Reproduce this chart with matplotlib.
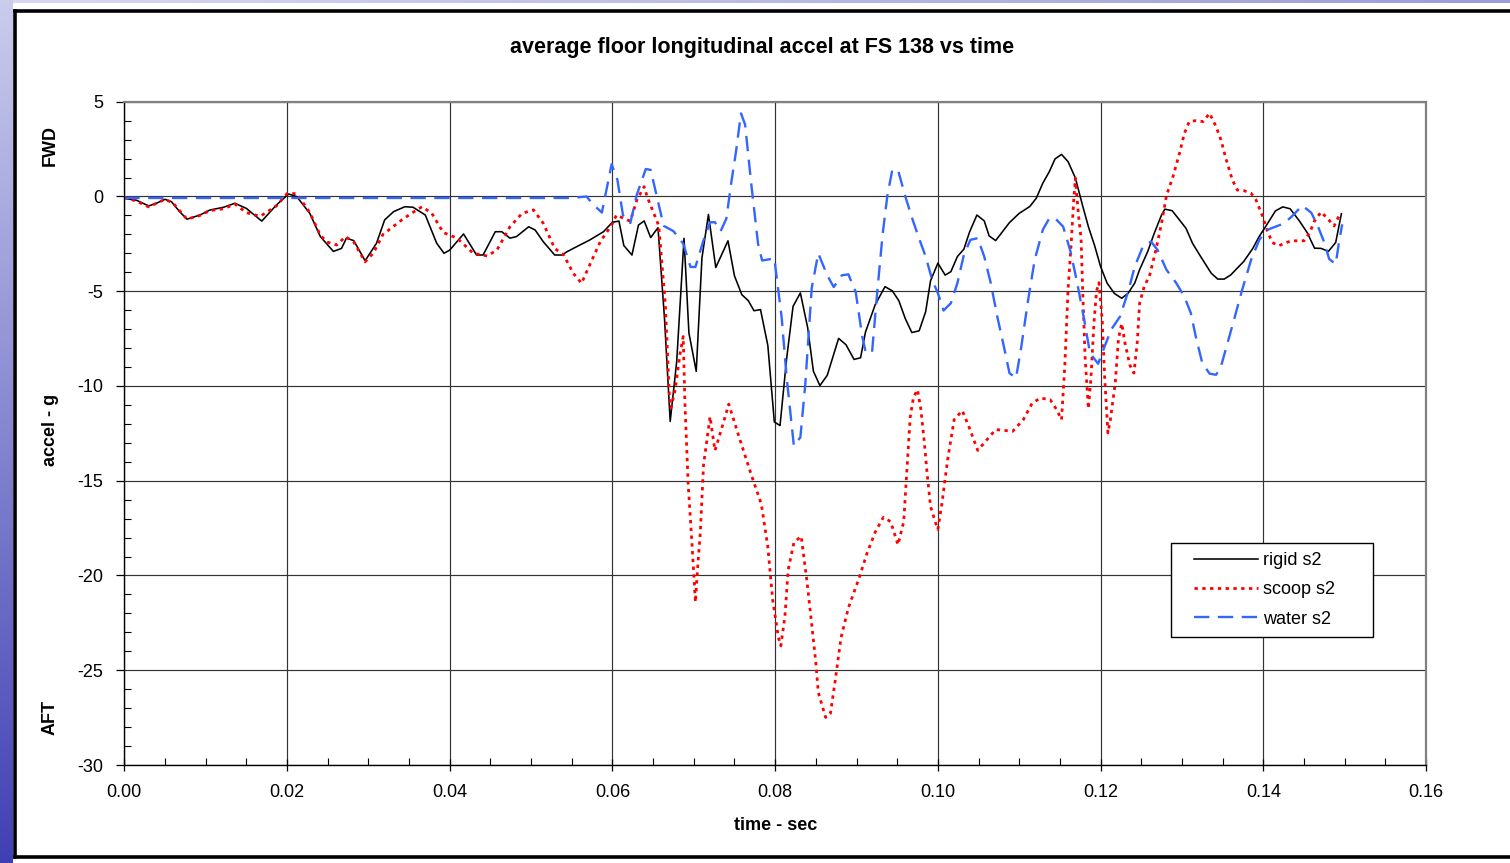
import numpy as np
import matplotlib
matplotlib.use("Agg")
import matplotlib.pyplot as plt
from matplotlib.ticker import MultipleLocator, FormatStrFormatter
from matplotlib.legend_handler import HandlerLine2D

plt.rcParams["font.family"] = ["Liberation Sans", "DejaVu Sans"]
plt.rcParams["axes.unicode_minus"] = False

# ---- data (time s, accel g) ----
rigid_t = [0.0000, 0.0015, 0.0030, 0.0040, 0.0050, 0.0058, 0.0068, 0.0077, 0.0093, 0.0105,
           0.0122, 0.0136, 0.0150, 0.0169, 0.0187, 0.0202, 0.0212, 0.0228, 0.0241, 0.0257,
           0.0267, 0.0273, 0.0282, 0.0296, 0.0310, 0.0320, 0.0331, 0.0345, 0.0355, 0.0370,
           0.0384, 0.0393, 0.0400, 0.0417, 0.0433, 0.0441, 0.0456, 0.0464, 0.0474, 0.0482,
           0.0497, 0.0505, 0.0515, 0.0529, 0.0538, 0.0544, 0.0556, 0.0572, 0.0589, 0.0600,
           0.0608, 0.0614, 0.0624, 0.0632, 0.0639, 0.0647, 0.0656, 0.0664, 0.0671, 0.0679,
           0.0688, 0.0694, 0.0703, 0.0710, 0.0718, 0.0727, 0.0742, 0.0750, 0.0759, 0.0767,
           0.0774, 0.0782, 0.0791, 0.0799, 0.0806, 0.0814, 0.0822, 0.0831, 0.0840, 0.0847,
           0.0855, 0.0864, 0.0878, 0.0887, 0.0897, 0.0905, 0.0911, 0.0923, 0.0935, 0.0944,
           0.0952, 0.0960, 0.0968, 0.0977, 0.0985, 0.0991, 0.1000, 0.1009, 0.1016, 0.1024,
           0.1032, 0.1039, 0.1048, 0.1057, 0.1063, 0.1071, 0.1088, 0.1100, 0.1113, 0.1121,
           0.1129, 0.1137, 0.1144, 0.1152, 0.1160, 0.1169, 0.1178, 0.1185, 0.1193, 0.1200,
           0.1208, 0.1217, 0.1226, 0.1234, 0.1242, 0.1248, 0.1258, 0.1266, 0.1275, 0.1279,
           0.1288, 0.1297, 0.1305, 0.1313, 0.1323, 0.1336, 0.1344, 0.1352, 0.1360, 0.1376,
           0.1387, 0.1395, 0.1403, 0.1415, 0.1424, 0.1433, 0.1444, 0.1454, 0.1463, 0.1471,
           0.1480, 0.1489, 0.1496]
rigid_g = [-0.10, -0.20, -0.50, -0.35, -0.15, -0.28, -0.80, -1.20, -0.98, -0.72,
           -0.57, -0.36, -0.63, -1.30, -0.45, 0.13, -0.01, -0.89, -2.12, -2.90,
           -2.74, -2.20, -2.33, -3.39, -2.47, -1.24, -0.80, -0.54, -0.57, -0.98,
           -2.47, -3.00, -2.83, -1.98, -3.09, -3.09, -1.86, -1.86, -2.20, -2.12,
           -1.60, -1.77, -2.39, -3.09, -3.09, -2.92, -2.65, -2.30, -1.86, -1.36,
           -1.30, -2.59, -3.09, -1.51, -1.29, -2.17, -1.65, -6.45, -11.87, -8.70,
           -2.21, -7.20, -9.23, -3.25, -0.95, -3.75, -2.34, -4.19, -5.18, -5.50,
           -6.03, -5.97, -7.86, -11.90, -12.09, -8.60, -5.80, -5.09, -6.93, -9.22,
           -9.98, -9.44, -7.49, -7.82, -8.60, -8.51, -7.16, -5.71, -4.76, -4.98,
           -5.50, -6.45, -7.18, -7.09, -6.08, -4.45, -3.52, -4.15, -3.97, -3.17,
           -2.78, -1.87, -0.98, -1.29, -2.08, -2.33, -1.38, -0.89, -0.53, -0.09,
           0.70, 1.31, 1.98, 2.22, 1.84, 0.98, -0.50, -1.59, -2.64, -3.70,
           -4.57, -5.12, -5.37, -5.10, -4.57, -3.86, -2.90, -1.94, -0.97, -0.67,
           -0.75, -1.24, -1.68, -2.47, -3.17, -4.05, -4.36, -4.36, -4.14, -3.43,
           -2.75, -2.11, -1.58, -0.76, -0.55, -0.65, -1.27, -1.91, -2.73, -2.74,
           -2.90, -2.43, -0.91]

scoop_t = [0.0000, 0.0015, 0.0030, 0.0040, 0.0050, 0.0060, 0.0077, 0.0093, 0.0105, 0.0122,
           0.0136, 0.0150, 0.0167, 0.0187, 0.0200, 0.0212, 0.0228, 0.0241, 0.0249, 0.0261,
           0.0272, 0.0282, 0.0296, 0.0306, 0.0318, 0.0341, 0.0353, 0.0366, 0.0378, 0.0392,
           0.0409, 0.0429, 0.0446, 0.0458, 0.0474, 0.0489, 0.0503, 0.0515, 0.0529, 0.0540,
           0.0552, 0.0562, 0.0572, 0.0585, 0.0599, 0.0605, 0.0618, 0.0622, 0.0630, 0.0639,
           0.0643, 0.0657, 0.0665, 0.0670, 0.0672, 0.0677, 0.0683, 0.0687, 0.0689, 0.0693,
           0.0698, 0.0702, 0.0705, 0.0708, 0.0712, 0.0720, 0.0726, 0.0734, 0.0743, 0.0754,
           0.0771, 0.0783, 0.0791, 0.0797, 0.0804, 0.0807, 0.0812, 0.0816, 0.0823, 0.0832,
           0.0839, 0.0845, 0.0850, 0.0853, 0.0862, 0.0868, 0.0874, 0.0881, 0.0890, 0.0903,
           0.0913, 0.0923, 0.0933, 0.0942, 0.0951, 0.0958, 0.0962, 0.0966, 0.0970, 0.0975,
           0.0979, 0.0983, 0.0987, 0.0991, 0.0997, 0.1000, 0.1005, 0.1012, 0.1020, 0.1030,
           0.1038, 0.1049, 0.1059, 0.1071, 0.1092, 0.1105, 0.1116, 0.1126, 0.1138, 0.1146,
           0.1152, 0.1156, 0.1160, 0.1164, 0.1167, 0.1169, 0.1173, 0.1176, 0.1178, 0.1181,
           0.1185, 0.1188, 0.1192, 0.1195, 0.1198, 0.1202, 0.1205, 0.1209, 0.1212, 0.1218,
           0.1222, 0.1226, 0.1230, 0.1236, 0.1241, 0.1245, 0.1248, 0.1254, 0.1260, 0.1268,
           0.1275, 0.1281, 0.1289, 0.1297, 0.1303, 0.1309, 0.1317, 0.1326, 0.1334, 0.1342,
           0.1348, 0.1354, 0.1362, 0.1368, 0.1376, 0.1385, 0.1391, 0.1399, 0.1405, 0.1411,
           0.1419, 0.1434, 0.1450, 0.1457, 0.1463, 0.1471, 0.1480, 0.1487, 0.1494]
scoop_g = [-0.05, -0.25, -0.55, -0.35, -0.15, -0.35, -1.20, -1.00, -0.75, -0.65,
           -0.40, -0.85, -1.05, -0.50, 0.15, 0.15, -0.85, -2.05, -2.40, -2.56,
           -2.12, -2.40, -3.45, -3.00, -2.00, -1.24, -0.89, -0.54, -0.89, -1.90,
           -2.20, -3.00, -3.14, -2.83, -1.60, -0.89, -0.71, -1.42, -2.74, -3.09,
           -4.06, -4.58, -3.62, -2.39, -1.51, -0.98, -1.24, -1.30, -0.19, 0.52,
           -0.05, -1.55, -5.69, -10.59, -11.15, -10.21, -8.33, -7.39, -10.78, -15.10,
           -18.49, -21.41, -19.43, -17.74, -14.16, -11.62, -13.41, -12.28, -10.96, -12.47,
           -14.73, -16.23, -18.49, -21.30, -23.27, -23.71, -22.16, -19.71, -18.27, -17.93,
           -20.27, -22.60, -24.60, -26.16, -27.49, -27.27, -25.49, -23.27, -21.71, -20.16,
           -18.82, -17.71, -16.93, -17.16, -18.38, -17.16, -14.38, -11.65, -10.60, -10.20,
           -11.20, -12.83, -14.70, -16.36, -17.20, -17.57, -16.20, -13.89, -11.78, -11.30,
           -12.13, -13.40, -12.90, -12.30, -12.39, -11.78, -10.90, -10.64, -10.72, -11.25,
           -11.78, -8.97, -4.93, -2.40, -0.18, 0.96, -1.06, -2.20, -4.93, -8.50,
           -11.20, -9.67, -6.60, -5.00, -4.55, -6.50, -9.50, -12.48, -11.80, -9.85,
           -7.50, -6.70, -7.74, -8.90, -9.32, -7.74, -5.63, -4.70, -4.22, -2.82,
           -1.41, 0.05, 1.05, 2.28, 3.33, 3.95, 4.00, 3.95, 4.39, 3.68,
           2.98, 2.01, 0.87, 0.34, 0.31, 0.17, -0.18, -1.03, -1.82, -2.43,
           -2.60, -2.34, -2.34, -1.91, -1.29, -0.82, -1.21, -1.56, -0.94]

water_t = [0.0000, 0.0550, 0.0568, 0.0577, 0.0587, 0.0599, 0.0606, 0.0613, 0.0622, 0.0630,
           0.0641, 0.0647, 0.0657, 0.0663, 0.0675, 0.0687, 0.0696, 0.0702, 0.0712, 0.0720,
           0.0726, 0.0733, 0.0740, 0.0746, 0.0752, 0.0758, 0.0763, 0.0771, 0.0779, 0.0784,
           0.0799, 0.0808, 0.0814, 0.0823, 0.0831, 0.0837, 0.0845, 0.0853, 0.0864, 0.0872,
           0.0882, 0.0890, 0.0899, 0.0907, 0.0911, 0.0919, 0.0925, 0.0932, 0.0938, 0.0944,
           0.0951, 0.0960, 0.0968, 0.0976, 0.0985, 0.0993, 0.1000, 0.1007, 0.1016, 0.1024,
           0.1032, 0.1040, 0.1049, 0.1057, 0.1065, 0.1073, 0.1082, 0.1088, 0.1096, 0.1102,
           0.1111, 0.1119, 0.1129, 0.1137, 0.1144, 0.1154, 0.1163, 0.1171, 0.1179, 0.1187,
           0.1197, 0.1205, 0.1213, 0.1224, 0.1234, 0.1242, 0.1252, 0.1262, 0.1270, 0.1281,
           0.1293, 0.1303, 0.1311, 0.1317, 0.1325, 0.1334, 0.1342, 0.1348, 0.1356, 0.1364,
           0.1374, 0.1385, 0.1395, 0.1403, 0.1411, 0.1424, 0.1434, 0.1448, 0.1459, 0.1467,
           0.1475, 0.1481, 0.1489, 0.1493, 0.1497]
water_g = [-0.08, -0.08, 0.00, -0.45, -0.85, 1.70, 0.90, -1.00, -1.40, 0.10,
           1.45, 1.40, -0.45, -1.55, -1.83, -2.49, -3.72, -3.72, -2.30, -1.36,
           -1.36, -1.83, -1.17, 0.71, 2.40, 4.38, 3.81, 0.52, -2.50, -3.38,
           -3.27, -6.38, -9.49, -13.16, -12.71, -9.93, -4.82, -3.00, -4.16, -4.78,
           -4.16, -4.11, -5.04, -7.38, -8.16, -8.27, -5.27, -2.04, 0.07, 1.40,
           1.40, 0.00, -1.10, -2.11, -3.17, -4.40, -5.10, -6.02, -5.63, -4.57,
           -3.08, -2.29, -2.20, -3.17, -4.57, -6.33, -8.09, -9.32, -9.58, -8.09,
           -5.45, -3.35, -1.76, -1.15, -1.15, -1.59, -2.90, -4.50, -6.30, -8.26,
           -8.83, -7.91, -7.03, -6.33, -5.01, -3.70, -2.64, -2.38, -2.82, -3.87,
           -4.57, -5.28, -6.16, -7.39, -8.79, -9.35, -9.41, -8.97, -7.74, -6.51,
           -4.93, -3.35, -2.30, -1.80, -1.66, -1.45, -1.10, -0.48, -0.86, -1.56,
           -2.43, -3.30, -3.57, -2.43, -1.47]

SERIES = ["rigid s2", "scoop s2", "water s2"]

fig = plt.figure(figsize=(15.10, 8.63), dpi=100)

# slide background strips + chart border
bg = fig.add_axes([0, 0, 1, 1], zorder=-10)
img = np.ones((863, 1510, 3))
vert = np.linspace(0, 1, 863)[:, None]
img[:, :13, 0] = 0.80 - 0.55 * vert
img[:, :13, 1] = 0.80 - 0.55 * vert
img[:, :13, 2] = 0.93 - 0.22 * vert
hor = np.linspace(0, 1, 1510)[None, :]
img[:4, 13:, 0] = (0.85 - 0.24 * hor)[:, 13:]
img[:4, 13:, 1] = (0.85 - 0.24 * hor)[:, 13:]
img[:4, 13:, 2] = (0.95 - 0.10 * hor)[:, 13:]
bg.imshow(img, aspect="auto", extent=(0, 1, 0, 1), interpolation="bilinear")
bg.set_axis_off()
bg.plot([14.5 / 1510, 14.5 / 1510], [1 - 11 / 863, 1 - 857 / 863], color="black", lw=2.6,
        solid_capstyle="projecting")
bg.plot([14.5 / 1510, 1], [1 - 11 / 863, 1 - 11 / 863], color="black", lw=2.6)
bg.plot([14.5 / 1510, 1], [1 - 857 / 863, 1 - 857 / 863], color="black", lw=2.6)
bg.set_xlim(0, 1); bg.set_ylim(0, 1)

ax = fig.add_axes([124.3 / 1510, 1 - 765 / 863, (1426 - 124.3) / 1510, (765 - 101.7) / 863])
ax.plot(rigid_t, rigid_g, color="black", lw=1.15, label=SERIES[0])
ax.plot(scoop_t, scoop_g, color="#ff0000", lw=2.0, linestyle=(0, (1.2, 1.6)), label=SERIES[1])
ax.plot(water_t, water_g, color="#3366ff", lw=1.7, linestyle=(0, (6.5, 3.6)), label=SERIES[2])

ax.set_xlim(0, 0.16)
ax.set_ylim(-30, 5)
ax.xaxis.set_major_locator(MultipleLocator(0.02))
ax.xaxis.set_minor_locator(MultipleLocator(0.005))
ax.yaxis.set_major_locator(MultipleLocator(5))
ax.yaxis.set_minor_locator(MultipleLocator(1))
ax.xaxis.set_major_formatter(FormatStrFormatter("%.2f"))
ax.grid(True, which="major", color="#333333", lw=0.85)
ax.set_axisbelow(True)
ax.tick_params(axis="x", which="major", direction="inout", length=8, width=0.9, pad=10, labelsize=13)
ax.tick_params(axis="y", which="major", direction="out", length=6, width=0.9, pad=9, labelsize=13)
ax.tick_params(which="minor", direction="in", length=5, width=0.8)
for s in ("top", "right"):
    ax.spines[s].set_color("#808080")
    ax.spines[s].set_linewidth(1.6)
for s in ("left", "bottom"):
    ax.spines[s].set_color("black")
    ax.spines[s].set_linewidth(1.0)

ax.set_xlabel("time - sec", fontsize=13, fontweight="bold", labelpad=11)
fig.text(50 / 1510, 1 - 430 / 863, "accel - g", rotation=90, ha="center", va="center",
         fontsize=13, fontweight="bold")
fig.text(50 / 1510, 1 - 145 / 863, "FWD", rotation=90, ha="center", va="center",
         fontsize=13, fontweight="bold")
fig.text(50 / 1510, 1 - 717 / 863, "AFT", rotation=90, ha="center", va="center",
         fontsize=13, fontweight="bold")
fig.text(762 / 1510, 1 - 47 / 863, "average floor longitudinal accel at FS 138 vs time",
         ha="center", va="center", fontsize=15.5, fontweight="bold")

leg = ax.legend(loc="upper left", bbox_to_anchor=(0.804, 0.2347, 0.155, 0.1), mode="expand",
                fontsize=13, frameon=True, fancybox=False, framealpha=1, edgecolor="black",
                handlelength=4.3, handletextpad=0.3, labelspacing=0.68, borderpad=0.5,
                borderaxespad=0, handler_map={plt.Line2D: HandlerLine2D(xpad=0.8)})
leg.get_frame().set_linewidth(1.0)

fig.savefig("out.png", dpi=100)
